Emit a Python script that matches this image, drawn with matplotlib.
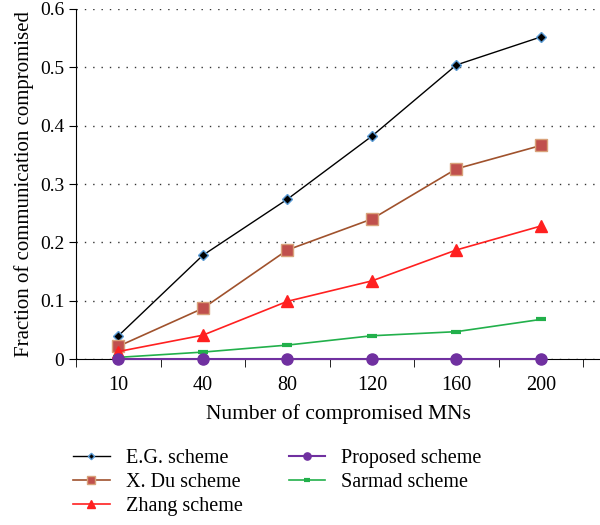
import numpy as np
import matplotlib
matplotlib.use('Agg')
import matplotlib.pyplot as plt

plt.rcParams['font.family'] = ['Liberation Serif', 'DejaVu Serif']

categories = ['10', '40', '80', '120', '160', '200']
eg = [0.040, 0.178, 0.274, 0.382, 0.504, 0.552]
xdu = [0.022, 0.087, 0.187, 0.240, 0.326, 0.366]
zhang = [0.013, 0.041, 0.099, 0.134, 0.187, 0.228]
proposed = [0, 0, 0, 0, 0, 0]
sarmad = [0.003, 0.012, 0.024, 0.040, 0.047, 0.068]

x = np.arange(len(categories))

fig = plt.figure(figsize=(6, 5.25), dpi=100)
ax = fig.add_axes([0.127, 0.316, 0.873, 0.667])

l1, = ax.plot(x, eg, color='black', lw=1, marker='D', ms=5, mfc='black', mec='#5b9bd5', mew=1, label='E.G. scheme')
l2, = ax.plot(x, xdu, color='#a0522d', lw=1.2, marker='s', ms=8, mfc='#c0504d', mec='#d9a27a', mew=1, label='X. Du scheme')
l3, = ax.plot(x, zhang, color='#ff2020', lw=1.2, marker='^', ms=8, mfc='#ff2020', mec='#ff2020', label='Zhang scheme')
l4, = ax.plot(x, proposed, color='#7030a0', lw=1.5, marker='o', ms=8, mfc='#7030a0', mec='#7030a0', label='Proposed scheme', clip_on=False, zorder=3)
l5, = ax.plot(x, sarmad, color='#22b04b', lw=1.2, marker='_', ms=7, mew=3, mec='#22b04b', label='Sarmad scheme')

ax.set_xlim(-0.5, 5.7)
ax.set_ylim(0, 0.6)
ax.set_yticks([0, 0.1, 0.2, 0.3, 0.4, 0.5, 0.6])
ax.set_yticklabels(['0', '0.1', '0.2', '0.3', '0.4', '0.5', '0.6'], fontsize=14)
ax.set_xticks(x)
ax.set_xticklabels(categories, fontsize=14.5)
ax.set_xticks(np.arange(-0.5, 6, 1), minor=True)
ax.tick_params(axis='x', which='major', length=0, pad=12)
ax.tick_params(axis='x', which='minor', length=6, direction='out')
ax.tick_params(axis='y', length=5, direction='out')
ax.grid(axis='y', linestyle=(0, (1, 5)), color='#333333', lw=1)
ax.spines['top'].set_visible(False)
ax.spines['right'].set_visible(False)
ax.set_xlabel('Number of compromised MNs', fontsize=15.5, labelpad=7)
ax.set_ylabel('Fraction of communication compromised', fontsize=15)

fig.legend(handles=[l1, l2, l3, l4, l5], loc='upper left', bbox_to_anchor=(0.092, 0.18), ncol=2,
           frameon=False, fontsize=14.5, handlelength=1.8, handletextpad=0.8, markerscale=0.65,
           labelspacing=0.25, columnspacing=2.3)

fig.savefig('out.png', dpi=100)
